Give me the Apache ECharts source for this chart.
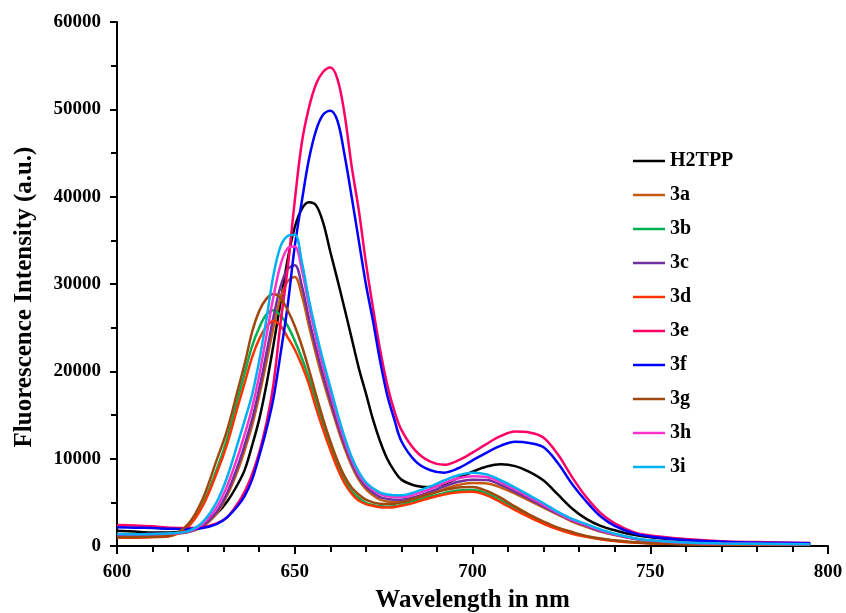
<!DOCTYPE html>
<html>
<head>
<meta charset="utf-8">
<script src="https://cdn.jsdelivr.net/npm/echarts@6/dist/echarts.min.js"></script>
<style>
  html, body { margin: 0; padding: 0; background: #fff; }
  #main { width: 846px; height: 613px; }
</style>
</head>
<body>
<div id="main"></div>
<script>
// Wavelength grid (nm) shared by all spectra
var wavelength = [600, 605, 610, 615, 620, 624, 628, 631, 634, 636, 638, 640, 642, 644, 646, 648, 650,
  652, 654, 656, 658, 660, 662, 664, 666, 668, 670, 672, 674, 676, 678, 680, 684, 688, 692, 696, 700,
  704, 708, 712, 716, 720, 724, 728, 732, 736, 740, 745, 750, 760, 770, 780, 795];

var seriesNames = ['H2TPP', '3a', '3b', '3c', '3d', '3e', '3f', '3g', '3h', '3i'];
var seriesColors = ['#000000', '#C55A11', '#00B050', '#7030A0', '#FF3300', '#FF0066', '#0000FF', '#9E480E', '#FF33CC', '#00B0F0'];

var h2tpp = [1750, 1650, 1550, 1550, 1750, 2450, 3700, 5100, 7100, 8800, 11500, 14500, 18400, 23000, 27900, 32800, 36500,
  38600, 39350, 39000, 37000, 33700, 30500, 27200, 23800, 20400, 17500, 14500, 12000, 10000, 8600, 7600, 6900, 6750, 7100, 7800, 8500,
  9100, 9350, 9150, 8500, 7500, 5900, 4300, 3100, 2300, 1800, 1300, 1000, 650, 450, 350, 250];
var c3a = [1300, 1300, 1330, 1400, 1600, 2200, 3700, 5800, 8700, 11100, 13800, 17200, 21000, 25000, 28400, 30300, 30800,
  28700, 25200, 21900, 18900, 16200, 13600, 11200, 9200, 7600, 6500, 5800, 5300, 5100, 5000, 5000, 5350, 5900, 6500, 7000, 7200,
  7150, 6700, 6000, 5200, 4400, 3600, 2800, 2200, 1650, 1250, 850, 580, 360, 260, 220, 200];
var c3b = [1000, 1000, 1050, 1180, 2300, 4700, 8700, 12300, 16900, 19900, 22900, 25000, 26500, 27000, 26400, 25200, 23500,
  21500, 19200, 16500, 13900, 11500, 9300, 7500, 6300, 5500, 4950, 4700, 4550, 4500, 4550, 4700, 5150, 5650, 6050, 6350, 6400,
  6000, 5200, 4300, 3400, 2650, 2000, 1500, 1100, 800, 600, 420, 310, 220, 190, 170, 150];
var c3c = [1300, 1300, 1330, 1400, 1600, 2300, 3900, 6100, 9200, 11700, 14500, 18000, 22000, 26200, 29700, 31700, 32150,
  29800, 26000, 22600, 19500, 16700, 14000, 11600, 9500, 7900, 6800, 6100, 5600, 5400, 5300, 5300, 5650, 6200, 6800, 7350, 7600,
  7550, 7000, 6200, 5400, 4500, 3700, 2900, 2300, 1700, 1300, 870, 600, 370, 270, 230, 200];
var c3d = [950, 950, 1000, 1150, 2200, 4500, 8300, 11700, 16000, 18800, 21600, 23700, 25100, 25750, 25200, 23900, 22500,
  20700, 18500, 15800, 13300, 11000, 8900, 7200, 6000, 5200, 4800, 4600, 4450, 4400, 4450, 4600, 5000, 5500, 5900, 6150, 6200,
  5800, 5000, 4100, 3300, 2550, 1900, 1400, 1050, 780, 580, 400, 300, 210, 180, 160, 150];
var c3e = [2400, 2350, 2250, 2100, 2050, 2150, 2600, 3300, 4900, 6300, 8200, 10700, 14000, 18500, 25500, 31800, 39500,
  46200, 50200, 52900, 54300, 54800, 53500, 49500, 43500, 38500, 32500, 27300, 22500, 18500, 15500, 13300, 10900, 9700, 9300, 9800, 10700,
  11700, 12600, 13100, 13000, 12400, 10500, 7900, 5600, 3800, 2600, 1650, 1200, 800, 550, 450, 350];
var c3f = [2140, 2100, 2050, 1980, 1950, 2050, 2500, 3300, 4600, 5800, 7600, 10300, 13300, 16900, 22000, 27500, 34300,
  39500, 44300, 47600, 49400, 49850, 48700, 44800, 40000, 35000, 30000, 25800, 21200, 17300, 14500, 12000, 9700, 8700, 8400, 8900, 9800,
  10700, 11500, 11950, 11800, 11300, 9500, 7100, 5100, 3400, 2300, 1500, 1100, 700, 500, 400, 320];
var c3g = [1000, 1000, 1050, 1200, 2500, 5300, 9800, 13300, 17900, 21000, 24500, 26900, 28300, 28850, 28400, 27000, 25200,
  22900, 20200, 17300, 14500, 12000, 9800, 8000, 6700, 5900, 5300, 5000, 4850, 4800, 4850, 5000, 5500, 6000, 6400, 6700, 6750,
  6300, 5500, 4500, 3600, 2800, 2100, 1600, 1150, 850, 650, 450, 330, 230, 200, 180, 160];
var c3h = [1370, 1350, 1380, 1430, 1650, 2500, 4400, 6900, 10300, 12900, 15800, 19500, 24000, 28500, 32200, 34100, 34300,
  31600, 27500, 23800, 20500, 17600, 14700, 12100, 9900, 8200, 7100, 6400, 5900, 5700, 5600, 5600, 5950, 6500, 7200, 7750, 8000,
  7900, 7300, 6500, 5600, 4700, 3800, 3000, 2400, 1800, 1350, 900, 620, 380, 280, 240, 200];
var c3i = [1370, 1350, 1380, 1450, 1700, 2700, 5000, 7900, 11800, 14500, 17300, 21200, 25900, 31000, 34300, 35500, 35650,
  32500, 28200, 24500, 21200, 18200, 15200, 12500, 10200, 8500, 7300, 6600, 6100, 5900, 5800, 5800, 6200, 6800, 7500, 8100, 8400,
  8200, 7500, 6700, 5800, 4900, 3900, 3100, 2500, 1900, 1400, 950, 650, 400, 300, 250, 200];

var seriesValues = [h2tpp, c3a, c3b, c3c, c3d, c3e, c3f, c3g, c3h, c3i];

var chartDom = document.getElementById('main');
var myChart = echarts.init(chartDom);
var font = '"Times New Roman", "Liberation Serif", serif';

var series = seriesNames.map(function (name, i) {
  return {
    name: name,
    type: 'line',
    symbol: 'none',
    smooth: 0.35,
    data: wavelength.map(function (w, j) { return [w, seriesValues[i][j]]; }),
    lineStyle: { color: seriesColors[i], width: 2.5 },
    itemStyle: { color: seriesColors[i] },
    emphasis: { disabled: true }
  };
});

var option = {
  animation: false,
  grid: { left: 117, right: 18, top: 22, bottom: 67, outerBoundsMode: 'none' },
  legend: {
    orient: 'vertical',
    left: 633,
    top: 151,
    padding: 0,
    icon: 'rect',
    itemWidth: 32,
    itemHeight: 2.5,
    itemGap: 14,
    textStyle: { fontFamily: font, fontWeight: 'bold', fontSize: 20, lineHeight: 20, color: '#000' },
    data: seriesNames
  },
  xAxis: {
    type: 'value',
    min: 600,
    max: 800,
    interval: 50,
    name: 'Wavelength in nm',
    nameLocation: 'middle',
    nameGap: 42,
    nameTextStyle: { fontFamily: font, fontWeight: 'bold', fontSize: 25, color: '#000' },
    axisLine: { lineStyle: { color: '#000', width: 2 } },
    axisTick: { length: 8, lineStyle: { color: '#000', width: 2 } },
    minorTick: { show: true, splitNumber: 5, length: 6, lineStyle: { color: '#000', width: 2 } },
    axisLabel: { margin: 17, fontFamily: font, fontWeight: 'bold', fontSize: 19, color: '#000' },
    splitLine: { show: false }
  },
  yAxis: {
    type: 'value',
    min: 0,
    max: 60000,
    interval: 10000,
    name: 'Fluorescence Intensity (a.u.)',
    nameLocation: 'middle',
    nameGap: 80,
    nameTextStyle: { fontFamily: font, fontWeight: 'bold', fontSize: 25, color: '#000', padding: [0, 26, 0, 0] },
    axisLine: { show: true, lineStyle: { color: '#000', width: 2 } },
    axisTick: { show: true, length: 7, lineStyle: { color: '#000', width: 2 } },
    minorTick: { show: true, splitNumber: 2, length: 6, lineStyle: { color: '#000', width: 2 } },
    axisLabel: {
      margin: 16, fontFamily: font, fontWeight: 'bold', fontSize: 19, color: '#000',
      formatter: function (v) { return String(v); }
    },
    splitLine: { show: false }
  },
  series: series
};

option && myChart.setOption(option);
</script>
</body>
</html>
